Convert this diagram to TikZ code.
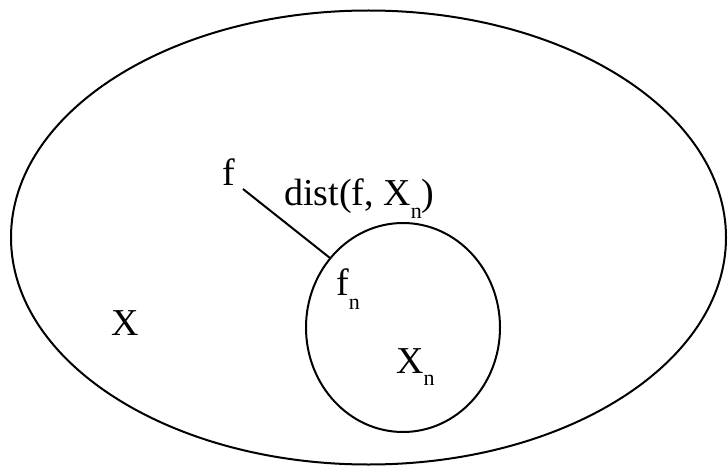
\documentclass[tikz,border=0pt]{standalone}
\usepackage{fontspec}
\setmainfont{Liberation Serif}
\usetikzlibrary{shapes.geometric}
\newcommand{\lowsub}[2]{#1\raisebox{-#2pt}{\fontsize{22}{22}\selectfont n}}
\begin{document}
\begin{tikzpicture}[x=1pt,y=-1pt,
  setshape/.style={draw=black,line width=2pt,ellipse,inner sep=0pt},
  lbl/.style={anchor=base west,inner sep=0pt,font=\fontsize{38}{38}\selectfont}]
\useasboundingbox (0,0) rectangle (728,468);
\node[setshape,minimum width=715pt,minimum height=454pt] (big) at (368.5,237.5) {};
\node[setshape,minimum width=194pt,minimum height=209pt] (small) at (403,327.5) {};
\node[lbl] (f) at (222,185) {f};
\node[lbl] (dist) at (284,205) {dist(f, \lowsub{X}{13})};
\node[lbl] (fn) at (336,295) {\lowsub{f}{14}};
\node[lbl] (X) at (111,335) {X};
\node[lbl] (Xn) at (396,373) {\lowsub{X}{12}};
\coordinate (fstart) at (243,189);
\coordinate (fend) at (330,258);
\draw[line width=2pt] (fstart) -- (fend);
\end{tikzpicture}
\end{document}
